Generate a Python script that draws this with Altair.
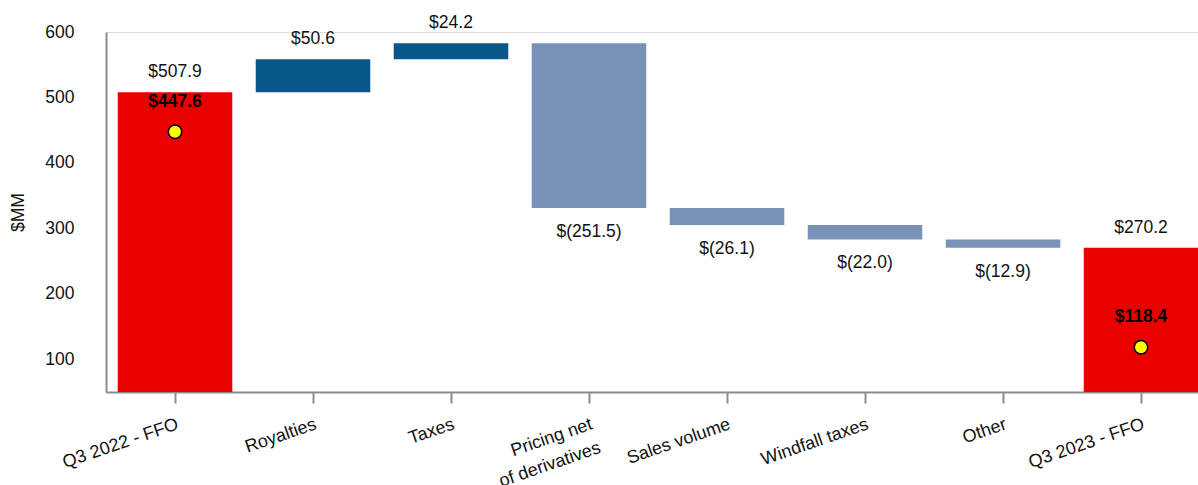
import altair as alt
import pandas as pd

categories = ["Q3 2022 - FFO", "Royalties", "Taxes", "Pricing net|of derivatives",
              "Sales volume", "Windfall taxes", "Other", "Q3 2023 - FFO"]
changes = [507.9, 50.6, 24.2, -251.5, -26.1, -22.0, -12.9, 270.2]
kinds = ["total", "up", "up", "down", "down", "down", "down", "total"]
marker_cats = ["Q3 2022 - FFO", "Q3 2023 - FFO"]
marker_values = [447.6, 118.4]
y_ticks = [100, 200, 300, 400, 500, 600]

rows = []
running = 0.0
for c, v, k in zip(categories, changes, kinds):
    if k == "total":
        start, end = 0.0, v
        running = v
    else:
        start, end = running, running + v
        running = end
    label = f"${v:.1f}" if v >= 0 else f"$({abs(v):.1f})"
    rows.append({"cat": c, "start": start, "end": end, "kind": k, "label": label,
                 "top": max(start, end), "bottom": min(start, end)})
df = pd.DataFrame(rows)
mk = pd.DataFrame({"cat": marker_cats, "val": marker_values,
                   "label": [f"${v:.1f}" for v in marker_values]})

FONT = "Liberation Sans"
x_enc = alt.X("cat:N", sort=categories,
              scale=alt.Scale(range=[0, 1104], paddingInner=0.17, paddingOuter=0.085),
              axis=alt.Axis(title=None, labelAngle=-19, labelAlign="right", labelBaseline="top",
                            labelExpr="split(datum.label, '|')", labelLineHeight=25,
                            labelPadding=12, tickSize=11, tickWidth=2, tickColor="#8c8c8c",
                            domainColor="#8c8c8c", domainWidth=2, labelFontSize=18,
                            labelFont=FONT, labelColor="#111111", grid=False))
y_scale = alt.Scale(domain=[50, 600], nice=False, zero=False)

bars = alt.Chart(df).mark_bar(clip=True).encode(
    x=x_enc,
    y=alt.Y("start:Q", scale=y_scale,
            axis=alt.Axis(title="$MM", values=y_ticks, ticks=False, labelPadding=32,
                          domainColor="#8c8c8c", domainWidth=2, grid=False,
                          labelFontSize=17.5, labelFont=FONT, labelColor="#111111",
                          titleFontSize=17.5, titleFont=FONT, titleFontWeight="normal",
                          titleColor="#111111", titlePadding=17)),
    y2="end:Q",
    color=alt.Color("kind:N", scale=alt.Scale(domain=["total", "up", "down"],
                                              range=["#EB0000", "#07578A", "#7892B8"]),
                    legend=None),
)

up_labels = alt.Chart(df).transform_filter("datum.kind != 'down'").mark_text(
    baseline="bottom", dy=-11, fontSize=17.5, font=FONT, color="#111111"
).encode(x=alt.X("cat:N", sort=categories), y=alt.Y("top:Q"), text="label:N")

down_labels = alt.Chart(df).transform_filter("datum.kind == 'down'").mark_text(
    baseline="middle", dy=24, fontSize=17.5, font=FONT, color="#111111"
).encode(x=alt.X("cat:N", sort=categories), y=alt.Y("bottom:Q"), text="label:N")

dots = alt.Chart(mk).mark_point(shape="circle", filled=True, size=180, fill="#FFFF00",
                                stroke="#000000", strokeWidth=1.5, opacity=1).encode(
    x=alt.X("cat:N", sort=categories), y=alt.Y("val:Q"))

dot_labels = alt.Chart(mk).mark_text(baseline="middle", dy=-30, fontSize=17.5, font=FONT,
                                     fontWeight="bold", color="#000000").encode(
    x=alt.X("cat:N", sort=categories), y=alt.Y("val:Q"), text="label:N")

chart = alt.layer(bars, up_labels, down_labels, dots, dot_labels).properties(
    width=1092, height=360,
    autosize=alt.AutoSizeParams(type="none"),
    padding={"left": 106, "top": 32, "right": 0, "bottom": 93},
).configure_view(stroke=None).configure(background="white")

chart.save("out.html", embed_options={"renderer": "svg", "actions": False})
